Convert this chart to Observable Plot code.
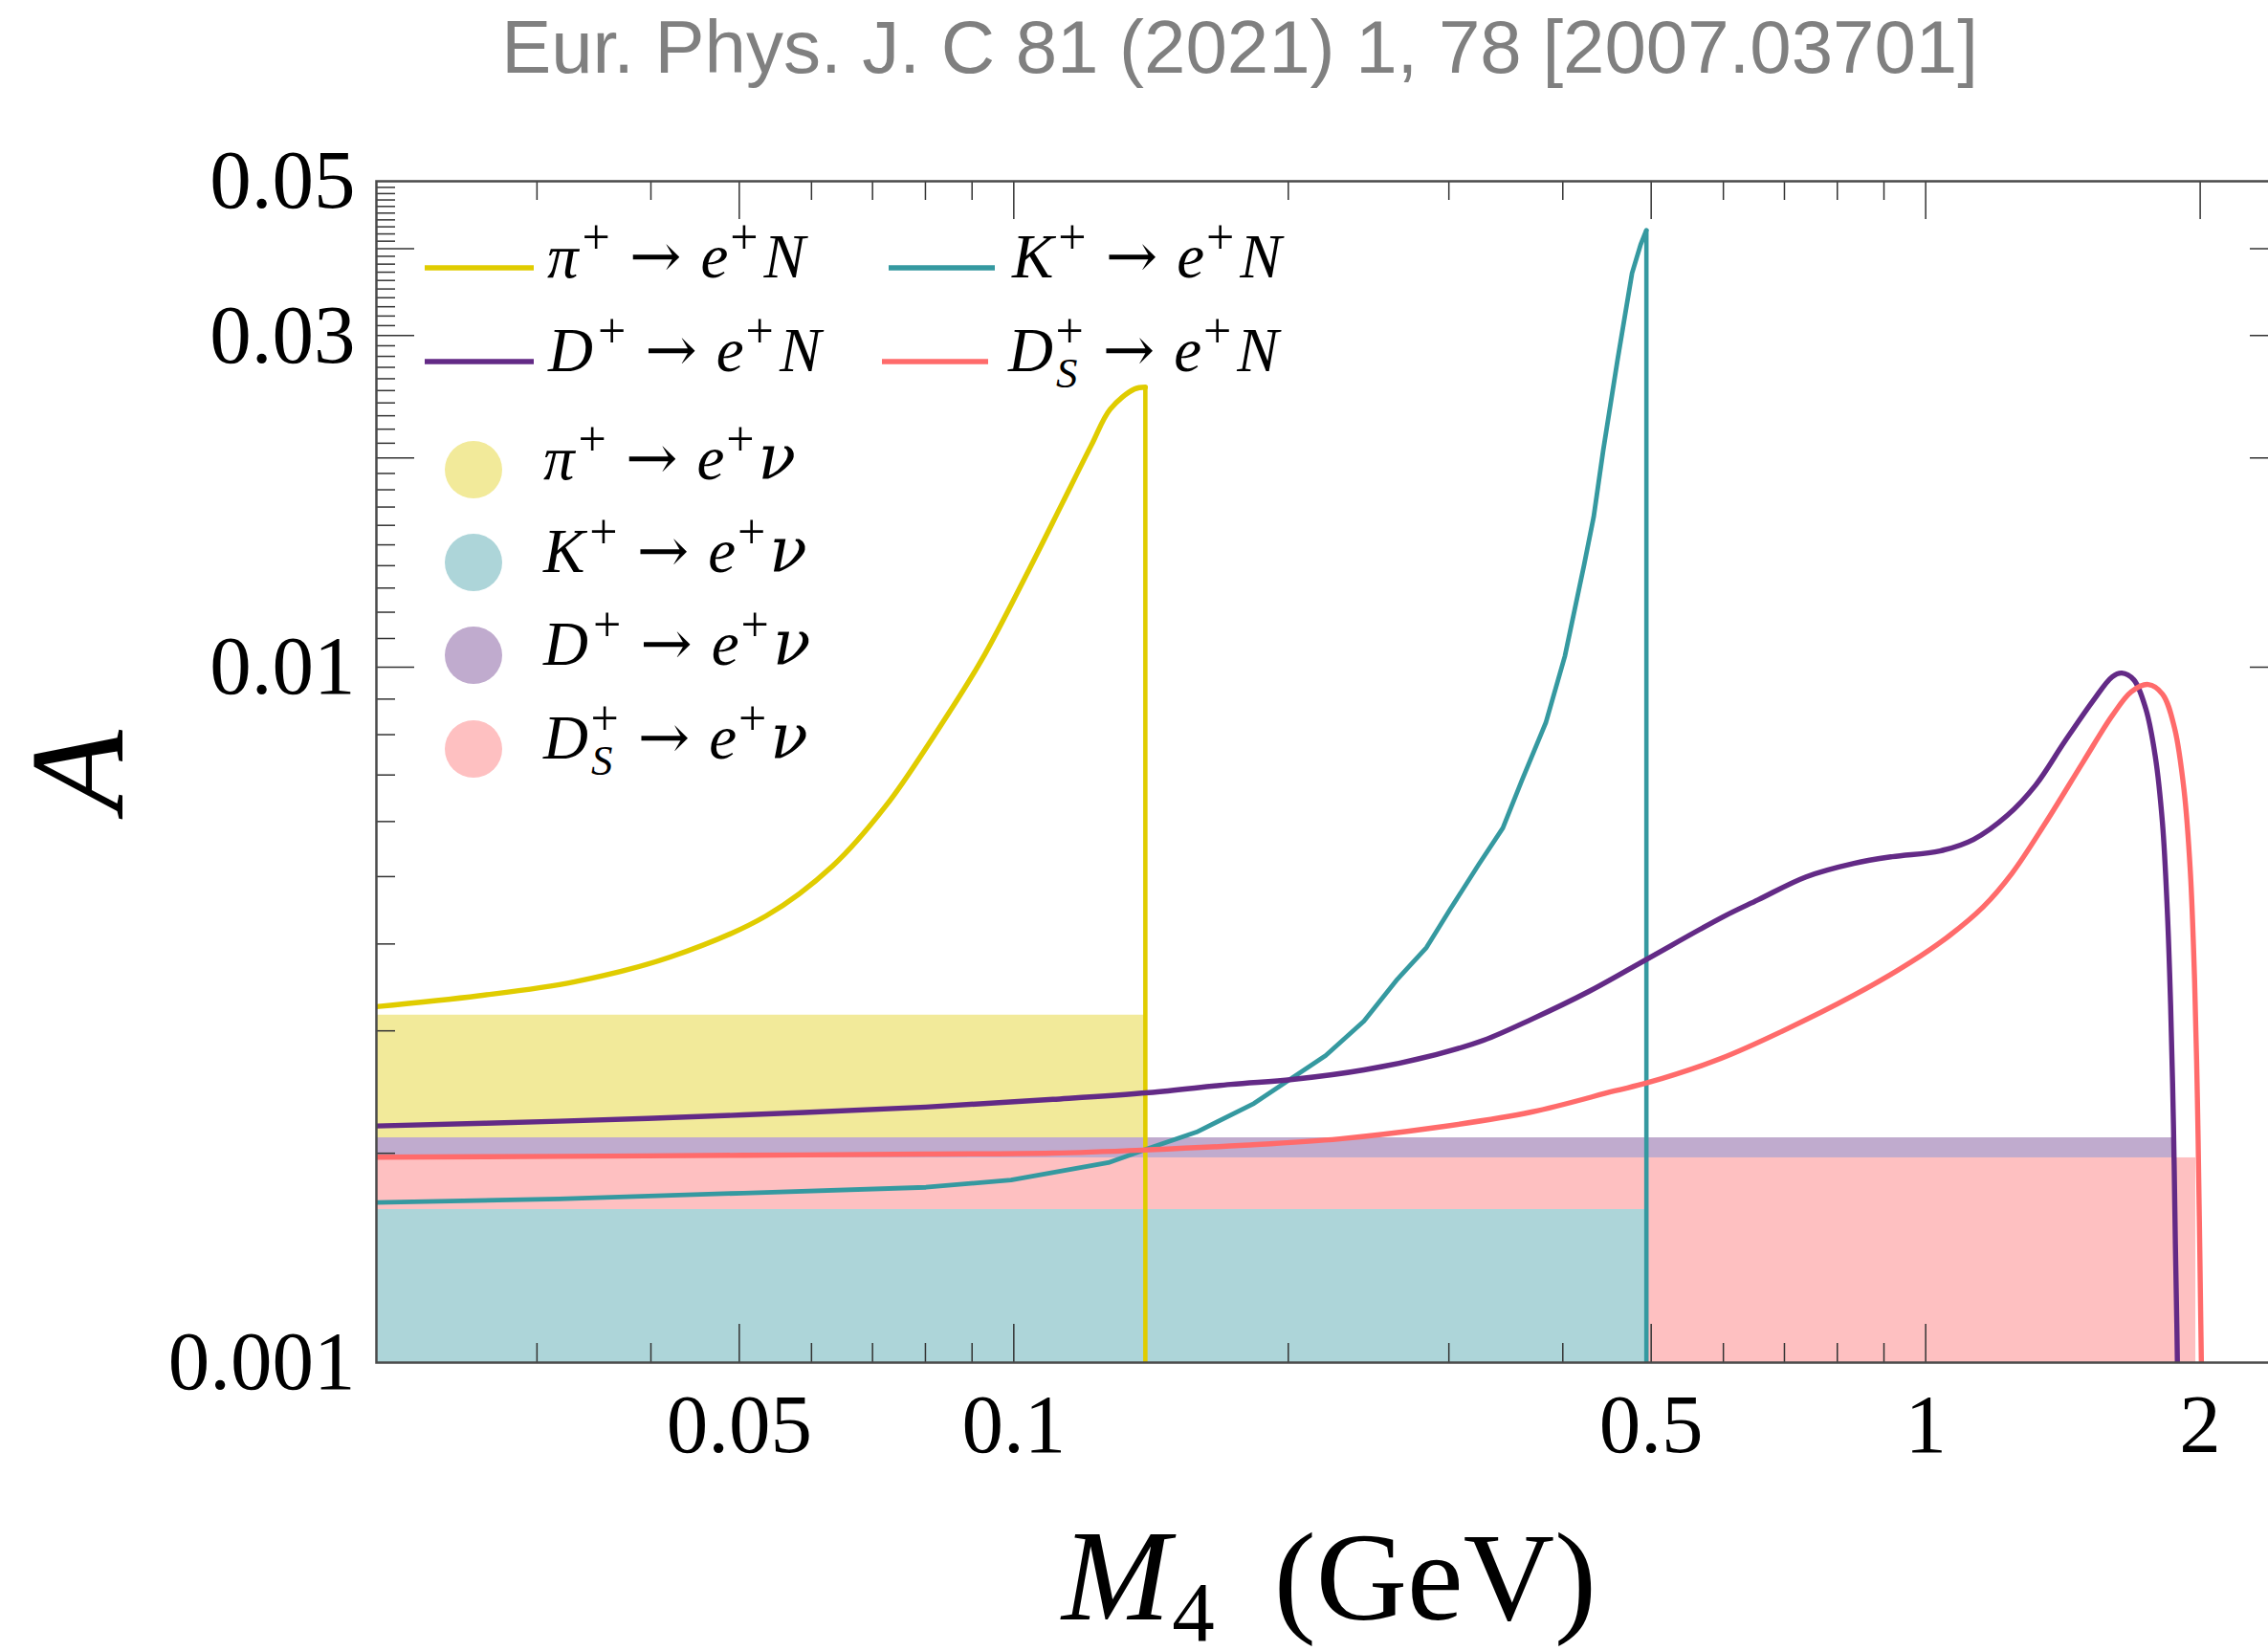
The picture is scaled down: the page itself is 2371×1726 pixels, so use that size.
<!DOCTYPE html>
<html><head><meta charset="utf-8">
<script src="https://cdn.jsdelivr.net/npm/d3@7"></script>
<script src="https://cdn.jsdelivr.net/npm/@observablehq/plot@0.6"></script>
<style>html,body{margin:0;padding:0;background:#fff;overflow:hidden;}</style>
</head><body><div id="chart"></div>
<script>
// ---------------- data ----------------
// pi+ -> e+ N
const pionM = [0.0200,0.0259,0.0330,0.0420,0.0535,0.0633,0.0724,0.0816,0.0921,0.1039,0.1131,0.1216,0.1276,0.1356,0.1394];
const pionA = [0.00325,0.00337,0.00353,0.00383,0.00439,0.00518,0.00632,0.00794,0.01022,0.01381,0.01724,0.02085,0.02352,0.02513,0.02529];
// K+ -> e+ N
const kaonM = [0.0200,0.03175,0.0505,0.0801,0.0993,0.1270,0.1406,0.1586,0.1834,0.2198,0.2421,0.2635,0.2835,0.3010,0.3236,0.3438,0.3608,0.3832,0.4022,0.4221,0.4324,0.4430,0.4594,0.4764,0.4869,0.4940];
const kaonA = [0.001699,0.001720,0.001753,0.001787,0.001831,0.001939,0.002033,0.002145,0.002359,0.002764,0.003098,0.003561,0.003954,0.004487,0.005208,0.005873,0.006882,0.008323,0.010387,0.014036,0.016443,0.020524,0.027733,0.036872,0.040551,0.042525];
// D+ -> e+ N
const dM = [0.0200,0.03175,0.0505,0.0801,0.1104,0.1406,0.1730,0.2020,0.2421,0.2902,0.3275,0.3696,0.4272,0.4939,0.5992,0.6552,0.7393,0.8342,0.9190,1.0369,1.1285,1.2284,1.3205,1.4198,1.5260,1.6016,1.6408,1.6911,1.7428,1.7855,1.8183,1.8404,1.8561,1.8694,1.8785,1.8854,1.8880];
const dA = [0.002189,0.002224,0.002271,0.002331,0.002391,0.002445,0.002513,0.002554,0.002636,0.002773,0.002908,0.003117,0.003418,0.003800,0.004375,0.004631,0.004996,0.005224,0.005341,0.005444,0.005655,0.006121,0.006773,0.007811,0.008951,0.009689,0.009811,0.009596,0.008728,0.007449,0.005968,0.004487,0.003268,0.002200,0.001481,0.001135,0.001];
// Ds+ -> e+ N
const dsM = [0.0200,0.03175,0.0505,0.0801,0.1104,0.1406,0.1790,0.2278,0.2902,0.3696,0.4560,0.4952,0.5963,0.6960,0.8342,0.9645,1.0622,1.1561,1.2433,1.3527,1.4904,1.6016,1.6810,1.7538,1.8183,1.8741,1.9199,1.9507,1.9720,1.9861,1.9958,2.0032,2.0060];
const dsA = [0.001974,0.001980,0.001987,0.001995,0.002001,0.002023,0.002054,0.002098,0.002178,0.002293,0.002459,0.002526,0.002738,0.002996,0.003375,0.003770,0.004114,0.004522,0.005053,0.005968,0.007332,0.008520,0.009224,0.009445,0.009152,0.008190,0.006666,0.005093,0.003538,0.002381,0.001603,0.001135,0.001];
// threshold drops (vertical lines)
const pionEnd = 0.1394, pionPeak = 0.02529;
const kaonEnd = 0.494, kaonPeak = 0.042525;

// SM  P+ -> e+ nu bands (drawn back to front)
const bandKeys = ["pi", "D", "Ds", "K"];
const bandTop  = [0.00316, 0.002105, 0.00197, 0.00166];
const bandXmax = [0.1394, 1.866, 1.978, 0.494];
const bandFill = ["#f2ea9a", "#c0abce", "#fec0c1", "#add5d9"];

// ticks
const xTickValues = [0.05, 0.1, 0.5, 1, 2];
const xTickLabels = ["0.05", "0.1", "0.5", "1", "2"];
const xMinor = [0.03,0.04,0.06,0.07,0.08,0.09,0.2,0.3,0.4,0.6,0.7,0.8,0.9];
const yTickValues = [0.001, 0.01, 0.03, 0.05];
const yTickLabels = ["0.001", "0.01", "0.03", "0.05"];
const yMajor = [0.01, 0.02, 0.03, 0.04];
const yMinor = [0.002,0.003,0.004,0.005,0.006,0.007,0.008,0.009,
  0.011,0.012,0.013,0.014,0.015,0.016,0.017,0.018,0.019,
  0.021,0.022,0.023,0.024,0.025,0.026,0.027,0.028,0.029,
  0.031,0.032,0.033,0.034,0.035,0.036,0.037,0.038,0.039,
  0.041,0.042,0.043,0.044,0.045,0.046,0.047,0.048,0.049];

const colPi = "#e0cc00", colK = "#3599a0", colD = "#632a86", colDs = "#ff6b6b";

// ---------------- layout ----------------
const serif = "'Liberation Serif', 'Times New Roman', 'DejaVu Serif', serif";
const arrowFont = "'DejaVu Serif', serif";
const sans = "'Liberation Sans', Arial, Helvetica, sans-serif";
const W = 2371, H = 1726;
const M = {left: 393, top: 189, right: -21, bottom: 302};
const plotW = W - M.left - M.right;
const plotH = H - M.top - M.bottom;

const rows = (xs, ys) => xs.map((x, i) => ({x, y: ys[i]}));

const marks = [];
bandKeys.forEach((k, i) => {
  marks.push(Plot.rect([{x1: 0.02, x2: bandXmax[i], y1: 0.001, y2: bandTop[i]}],
    {x1: "x1", x2: "x2", y1: "y1", y2: "y2", fill: bandFill[i]}));
});
const tk = {stroke: "#333", strokeWidth: 1.5};
marks.push(
  Plot.ruleX(xTickValues, {x: d => d, insetTop: plotH - 40, ...tk}),
  Plot.ruleX(xMinor, {x: d => d, insetTop: plotH - 20, ...tk}),
  Plot.ruleX(xTickValues, {x: d => d, insetBottom: plotH - 40, ...tk}),
  Plot.ruleX(xMinor, {x: d => d, insetBottom: plotH - 20, ...tk}),
  Plot.ruleY(yMajor, {y: d => d, insetRight: plotW - 40, ...tk}),
  Plot.ruleY(yMinor, {y: d => d, insetRight: plotW - 20, ...tk}),
  Plot.ruleY(yMajor, {y: d => d, insetLeft: plotW - 40, ...tk}),
  Plot.ruleY(yMinor, {y: d => d, insetLeft: plotW - 20, ...tk})
);
const lw = 5.4;
marks.push(
  Plot.line(rows(pionM, pionA), {x: "x", y: "y", stroke: colPi, strokeWidth: lw, curve: "catmull-rom", clip: true}),
  Plot.ruleX([pionEnd], {x: d => d, y1: 0.001, y2: pionPeak, stroke: colPi, strokeWidth: 4.6}),
  Plot.line(rows(kaonM, kaonA), {x: "x", y: "y", stroke: colK, strokeWidth: 4.8, strokeLinejoin: "round", clip: true}),
  Plot.ruleX([kaonEnd], {x: d => d, y1: 0.001, y2: kaonPeak, stroke: colK, strokeWidth: 4.6}),
  Plot.line(rows(dM, dA), {x: "x", y: "y", stroke: colD, strokeWidth: lw, curve: "catmull-rom", clip: true}),
  Plot.line(rows(dsM, dsA), {x: "x", y: "y", stroke: colDs, strokeWidth: lw, curve: "catmull-rom", clip: true}),
  Plot.frame({stroke: "#4a4a4a", strokeWidth: 2.5}),
  Plot.text(xTickValues, {x: d => d, text: (d, i) => xTickLabels[i], frameAnchor: "bottom", lineAnchor: "bottom", dy: 93, fontSize: 87, fontFamily: serif, fill: "#000"}),
  Plot.text(yTickValues, {y: d => d, text: (d, i) => yTickLabels[i], frameAnchor: "left", textAnchor: "end", lineAnchor: "middle", dx: -22, fontSize: 87, fontFamily: serif, fill: "#000"})
);

const chart = Plot.plot({
  width: W, height: H,
  marginLeft: M.left, marginTop: M.top, marginRight: M.right, marginBottom: M.bottom,
  x: {type: "log", domain: [0.02, 2.5], axis: null},
  y: {type: "log", domain: [0.001, 0.05], axis: null},
  style: {background: "white", overflow: "hidden"},
  marks
});
document.getElementById("chart").appendChild(chart);

// ---------------- decorations ----------------
const svg = d3.select(chart);
const g = svg.append("g");

function mathLabel(x, y, segs, size, anchor) {
  const t = g.append("text").attr("x", x).attr("y", y)
    .attr("font-family", serif).attr("font-size", size).attr("fill", "#000")
    .attr("text-anchor", anchor || "start");
  let shift = 0;
  for (const s of segs) {
    const sp = t.append("tspan").text(s.t);
    let target = 0, fs = s.fs || size;
    if (s.k === "sup") { target = -0.38 * size; fs = 0.8 * size; }
    else if (s.k === "sub") { target = 0.26 * size; fs = 0.69 * size; }
    else if (s.k === "low") { target = s.shift; }
    sp.attr("dy", target - shift); shift = target;
    sp.attr("font-size", fs);
    if (s.i) sp.attr("font-style", "italic");
    if (s.f) sp.attr("font-family", s.f);
    if (s.dx) sp.attr("dx", s.dx);
  }
  return t;
}
function head(p) {
  if (p === "Ds") return [{t: "D", i: 1}, {t: "S", k: "sub", i: 1, dx: 3}, {t: "+", k: "sup", dx: -23}];
  const name = {pi: "π", K: "K", D: "D"}[p];
  return [{t: name, i: 1}, {t: "+", k: "sup", dx: p === "pi" ? 4 : 5}];
}
function label(p, end) {
  return [...head(p), {t: "→", f: arrowFont, dx: 20}, {t: "e", i: 1, dx: 20}, {t: "+", k: "sup", dx: 2},
    end === "N" ? {t: "N", i: 1, dx: 6} : {t: "ν", i: 1, f: arrowFont, dx: 4}];
}

// line legend
const LS = 65;
const lineLeg = [
  {p: "pi", c: colPi, x1: 444, x2: 558, tx: 572, y: 280},
  {p: "K", c: colK, x1: 929, x2: 1040, tx: 1058, y: 280},
  {p: "D", c: colD, x1: 444, x2: 558, tx: 573, y: 378},
  {p: "Ds", c: colDs, x1: 922, x2: 1033, tx: 1054, y: 378}
];
for (const l of lineLeg) {
  g.append("line").attr("x1", l.x1).attr("x2", l.x2).attr("y1", l.y).attr("y2", l.y)
    .attr("stroke", l.c).attr("stroke-width", 5.4);
  mathLabel(l.tx, l.y + 10, label(l.p, "N"), LS);
}
// band legend
const dotLeg = [
  {p: "pi", c: bandFill[0], y: 491},
  {p: "K", c: bandFill[3], y: 588},
  {p: "D", c: bandFill[1], y: 685},
  {p: "Ds", c: bandFill[2], y: 783}
];
for (const d of dotLeg) {
  g.append("circle").attr("cx", 495).attr("cy", d.y).attr("r", 30).attr("fill", d.c);
  mathLabel(568, d.y + 10, label(d.p, "nu"), LS);
}

// axis titles
g.append("text").attr("transform", "translate(82,806) rotate(-90)")
  .attr("text-anchor", "middle").attr("dy", "0.33em")
  .attr("font-family", serif).attr("font-style", "italic").attr("font-size", 140)
  .attr("fill", "#000").text("A");
mathLabel(1110, 1693, [{t: "M", i: 1}, {t: "4", k: "low", shift: 22, fs: 89, dx: 2}, {t: "(GeV)", k: "low", shift: 0, fs: 132, dx: 62}], 136);

// title
g.append("text").attr("x", 1296).attr("y", 76).attr("text-anchor", "middle")
  .attr("font-family", sans).attr("font-size", 78).attr("fill", "#808080")
  .text("Eur. Phys. J. C 81 (2021) 1, 78 [2007.03701]");
</script></body></html>
